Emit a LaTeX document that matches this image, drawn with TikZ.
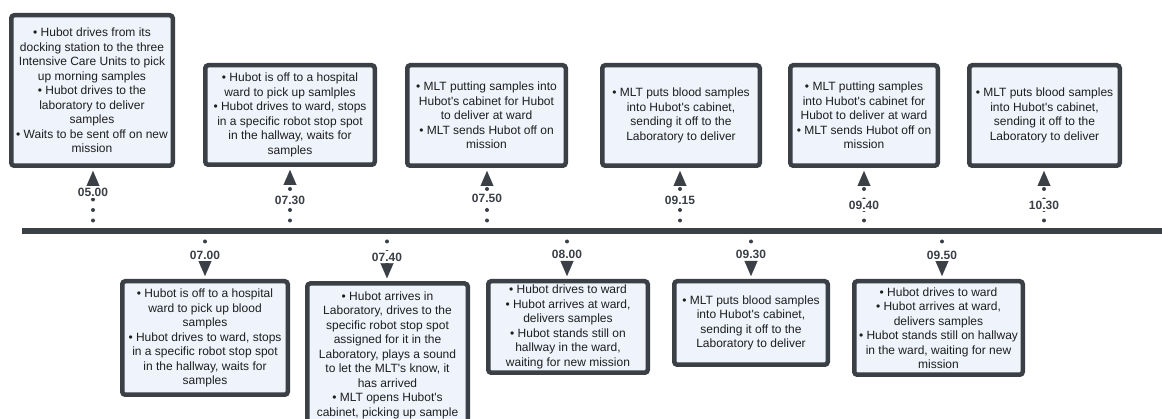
\documentclass[tikz,border=0pt]{standalone}
\usepackage{fontspec}
\setmainfont{Liberation Sans}
\usetikzlibrary{arrows.meta}
\definecolor{edge}{RGB}{59,63,70}
\definecolor{boxfill}{RGB}{238,243,252}
\definecolor{ink}{RGB}{30,30,30}
\newcommand{\qs}{\textquotesingle}
\begin{document}
\begin{tikzpicture}[x=1pt,y=-1pt,
 evbox/.style={draw=edge,line width=4.5pt,fill=boxfill,rounded corners=3pt,align=center,text=ink,font=\fontsize{12}{14.5}\selectfont,inner sep=0pt},
 axisline/.style={draw=edge,line width=6pt},
 conn/.style={draw=edge,line width=4pt,line cap=round,dash pattern=on 0pt off 10.5pt,-{Triangle[length=15pt,width=13pt,line width=0.01pt]},shorten >=3pt},
 tlabel/.style={fill=white,inner sep=1.5pt,text=edge,font=\bfseries\fontsize{12}{14}\selectfont}]
\useasboundingbox (0,0) rectangle (1162,419);
\clip (0,0) rectangle (1162,419);
\fill[white] (0,0) rectangle (1162,419);

% axis
\coordinate (t0) at (22,231);
\coordinate (t1) at (1175,231);
\draw[axisline] (t0) -- (t1);

% top boxes
\node[evbox,minimum width=161.5pt,minimum height=150.5pt] (b1) at (92,90.5) {%
• Hubot drives from its\\docking station to the three\\Intensive Care Units to pick\\up morning samples\\• Hubot drives to the\\laboratory to deliver\\samples\\• Waits to be sent off on new\\mission};
\node[evbox,minimum width=169.5pt,minimum height=99.5pt] (b2) at (290,115) {%
• Hubot is off to a hospital\\ward to pick up samlples\\• Hubot drives to ward, stops\\in a specific robot stop spot\\in the hallway, waits for\\samples};
\node[evbox,minimum width=158.5pt,minimum height=100.5pt] (b3) at (486.5,115.5) {%
• MLT putting samples into\\Hubot\qs s cabinet for Hubot\\to deliver at ward\\• MLT sends Hubot off on\\mission};
\node[evbox,minimum width=157.5pt,minimum height=100.5pt] (b4) at (681,115.5) {%
• MLT puts blood samples\\into Hubot\qs s cabinet,\\sending it off to the\\Laboratory to deliver};
\node[evbox,minimum width=147.5pt,minimum height=100.5pt] (b5) at (864,115.5) {%
• MLT putting samples\\into Hubot\qs s cabinet for\\Hubot to deliver at ward\\• MLT sends Hubot off on\\mission};
\node[evbox,minimum width=150.5pt,minimum height=100.5pt] (b6) at (1044.5,115.5) {%
• MLT puts blood samples\\into Hubot\qs s cabinet,\\sending it off to the\\Laboratory to deliver};

% bottom boxes
\node[evbox,minimum width=165.5pt,minimum height=113.5pt] (b7) at (205,338) {%
• Hubot is off to a hospital\\ward to pick up blood\\samples\\• Hubot drives to ward, stops\\in a specific robot stop spot\\in the hallway, waits for\\samples};
\node[evbox,minimum width=160.5pt,inner ysep=8pt,anchor=north] (b8) at (387.5,281.25) {%
• Hubot arrives in\\Laboratory, drives to the\\specific robot stop spot\\assigned for it in the\\Laboratory, plays a sound\\to let the MLT\qs s know, it\\has arrived\\• MLT opens Hubot\qs s\\cabinet, picking up sample};
\node[evbox,minimum width=159.5pt,minimum height=91.5pt] (b9) at (568,327) {%
• Hubot drives to ward\\• Hubot arrives at ward,\\delivers samples\\• Hubot stands still on\\hallway in the ward,\\waiting for new mission};
\node[evbox,minimum width=153.5pt,minimum height=83.5pt] (b10) at (751,323) {%
• MLT puts blood samples\\into Hubot\qs s cabinet,\\sending it off to the\\Laboratory to deliver};
\node[evbox,minimum width=168.5pt,minimum height=93.5pt] (b11) at (938.5,328) {%
• Hubot drives to ward\\• Hubot arrives at ward,\\delivers samples\\• Hubot stands still on hallway\\in the ward, waiting for new\\mission};

% axis anchor points
\coordinate (a1) at (93,231);
\coordinate (a2) at (290,231);
\coordinate (a3) at (487,231);
\coordinate (a4) at (680,231);
\coordinate (a5) at (864,231);
\coordinate (a6) at (1044,231);
\coordinate (a7) at (205,231);
\coordinate (a8) at (387,231);
\coordinate (a9) at (567,231);
\coordinate (a10) at (751,231);
\coordinate (a11) at (942,231);

% connectors
\draw[conn] (a1) -- (a1 |- b1.south);
\draw[conn] (a2) -- (a2 |- b2.south);
\draw[conn] (a3) -- (a3 |- b3.south);
\draw[conn] (a4) -- (a4 |- b4.south);
\draw[conn] (a5) -- (a5 |- b5.south);
\draw[conn] (a6) -- (a6 |- b6.south);
\draw[conn] (a7) -- (a7 |- b7.north);
\draw[conn] (a8) -- (a8 |- b8.north);
\draw[conn] (a9) -- (a9 |- b9.north);
\draw[conn] (a10) -- (a10 |- b10.north);
\draw[conn] (a11) -- (a11 |- b11.north);

% time labels
\node[tlabel] (l1) at (93,192) {05.00};
\node[tlabel] (l2) at (290,200) {07.30};
\node[tlabel] (l3) at (487,198) {07.50};
\node[tlabel] (l4) at (680,200) {09.15};
\node[tlabel] (l5) at (864,205) {09.40};
\node[tlabel] (l6) at (1044,205) {10.30};
\node[tlabel] (l7) at (205,255) {07.00};
\node[tlabel] (l8) at (387,257) {07.40};
\node[tlabel] (l9) at (567,254) {08.00};
\node[tlabel] (l10) at (751,254) {09.30};
\node[tlabel] (l11) at (942,255) {09.50};
\end{tikzpicture}
\end{document}
